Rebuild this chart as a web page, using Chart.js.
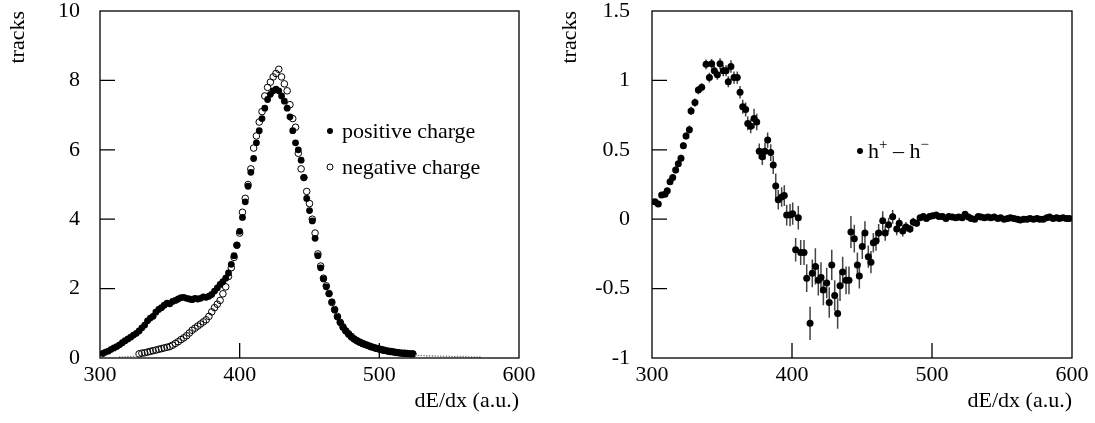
<!DOCTYPE html>
<html><head><meta charset="utf-8">
<script src="https://cdn.jsdelivr.net/npm/chart.js@4.4.1/dist/chart.umd.min.js"></script>
<style>
body{margin:0;background:#fff;width:1095px;height:423px;overflow:hidden;position:relative}
#c1{position:absolute;left:0;top:0}
#c2{position:absolute;left:547px;top:0}
</style></head>
<body>
<canvas id="c1" width="547" height="423"></canvas>
<canvas id="c2" width="548" height="423"></canvas>
<script>
// ---- Left panel: dE/dx distributions ----
const posX = [302,304,306,308,310,312,314,316,318,320,322,324,326,328,330,332,334,336,338,340,
342,344,346,348,350,352,354,356,358,360,362,364,366,368,370,372,374,376,378,380,
382,384,386,388,390,392,394,396,398,400,402,404,406,408,410,412,414,416,418,420,
422,424,426,428,430,432,434,436,438,440,442,444,446,448,450,452,454,456,458,460,
462,464,466,468,470,472,474,476,478,480,482,484,486,488,490,492,494,496,498,500,
502,504,506,508,510,512,514,516,518,520,522,524];
const posY = [0.13,0.17,0.2,0.25,0.29,0.33,0.38,0.44,0.5,0.55,
0.6,0.66,0.71,0.78,0.87,0.95,1.07,1.15,1.2,1.32,
1.4,1.45,1.52,1.58,1.56,1.63,1.66,1.7,1.74,1.75,
1.72,1.7,1.68,1.72,1.7,1.72,1.76,1.75,1.78,1.83,
1.93,2.02,2.12,2.2,2.3,2.45,2.7,2.95,3.25,3.65,
4.05,4.5,4.95,5.35,5.75,6.2,6.55,6.9,7.2,7.45,
7.6,7.7,7.75,7.7,7.55,7.4,7.2,6.95,6.55,6.2,
6.0,5.7,5.2,4.6,4.25,3.95,3.45,2.95,2.6,2.28,
2.05,1.85,1.62,1.38,1.18,1.02,0.88,0.78,0.68,0.6,
0.54,0.49,0.45,0.41,0.38,0.35,0.32,0.3,0.27,0.25,
0.23,0.21,0.2,0.18,0.17,0.16,0.15,0.14,0.13,0.13,
0.12,0.12];
const negX = [328,330,332,334,336,338,340,342,344,346,
348,350,352,354,356,358,360,362,364,366,
368,370,372,374,376,378,380,382,384,386,
388,390,392,394,396,398,400,402,404,406,
408,410,412,414,416,418,420,422,424,426,
428,430,432,434,436,438,440,442,444,446,
448,450,452,454,456,458,460,462,464,466,
468,470,472,474,476,478,480,482,484,486,
488,490,492,494,496,498,500,502,504,506,
508,510,512,514,516,518,520,522,524];
const negY = [0.12,0.14,0.15,0.17,0.19,0.21,0.23,0.25,0.27,0.29,
0.31,0.33,0.37,0.42,0.47,0.53,0.58,0.64,0.72,0.8,
0.86,0.92,0.98,1.04,1.1,1.2,1.33,1.45,1.55,1.66,
1.85,2.05,2.35,2.6,2.9,3.25,3.6,4.2,4.6,5.0,
5.45,6.05,6.4,6.8,7.1,7.55,7.8,7.95,8.1,8.2,
8.32,8.1,7.9,7.7,7.3,6.9,6.65,5.9,5.45,5.2,
4.8,4.45,4.0,3.6,3.0,2.65,2.3,2.08,1.86,1.6,
1.4,1.2,1.03,0.9,0.78,0.7,0.62,0.55,0.5,0.46,
0.42,0.39,0.36,0.33,0.3,0.28,0.26,0.24,0.22,0.2,
0.19,0.18,0.16,0.15,0.14,0.14,0.13,0.12,0.12];
const tailX = [314,316,318,320,322,324,326,526,528,530,532,534,536,538,540,542,544,546,548,550,552,554,556,558,560,562,564,566,568,570,572];
const tailY = [0.03,0.03,0.03,0.04,0.04,0.05,0.06,0.08,0.07,0.07,0.07,0.06,0.06,0.06,0.06,0.05,0.05,0.05,0.05,0.05,0.04,0.04,0.04,0.04,0.04,0.04,0.03,0.03,0.03,0.03,0.03];

// ---- Right panel: h+ - h- difference ----
const diffX = [302.1,304.5,306.9,309.3,310.9,312.9,314.8,316.9,318.8,320.7,322.4,324.3,326.7,327.9,330.7,333.1,335.5,338.6,341.0,342.6,
344.5,346.7,348.6,350.9,352.9,354.5,356.4,358.6,360.9,362.9,364.8,366.9,368.4,370.5,372.9,374.8,376.6,378.8,380.7,382.6,
384.8,386.6,388.4,390.2,392.6,394.5,396.2,398.6,400.5,402.6,404.5,406.2,408.6,410.5,412.9,414.5,416.7,418.8,420.7,422.4,
424.8,426.6,428.4,430.5,432.6,434.3,436.2,438.6,440.7,442.1,444.5,446.7,448.1,450.2,452.1,454.5,456.4,458.1,460.0,461.9,
464.8,466.6,469.0,471.9,474.8,476.6,479.1,481.4,484.3,486.6,489.0,491.5,493.8,496,498.3,500.5,503,505,507.5,510,
512,514.5,517,519,521.5,523.6,526,528,530.5,533,535,537.5,540,542,544.5,547,549,551.5,554,556,
558.5,561,563,565.5,568,570,572.5,575,577,579.5,582,584,586.5,589,591,593.5,596,598];
const diffY = [0.125,0.109,0.174,0.18,0.205,0.27,0.30,0.355,0.40,0.44,0.53,0.60,0.645,0.78,0.84,0.93,0.95,1.116,1.02,1.12,
1.07,1.04,1.12,1.07,1.07,0.99,1.10,1.02,1.02,0.915,0.81,0.79,0.69,0.67,0.725,0.70,0.49,0.45,0.49,0.57,
0.48,0.39,0.24,0.14,0.16,0.17,0.03,0.03,0.04,-0.22,0.01,-0.24,-0.24,-0.425,-0.75,-0.39,-0.34,-0.44,-0.42,-0.51,
-0.46,-0.60,-0.33,-0.55,-0.68,-0.48,-0.38,-0.44,-0.44,-0.092,-0.14,-0.33,-0.41,-0.196,-0.10,-0.27,-0.31,-0.17,-0.157,-0.10,
-0.012,-0.10,-0.04,0.017,-0.07,-0.03,-0.085,-0.056,-0.07,-0.02,-0.03,0.01,0.02,0.005,0.02,0.025,0.03,0.02,0.02,0.005,
0.02,0.015,0.01,0.015,0.01,0.035,0.015,0.005,0.0,0.02,0.015,0.01,0.015,0.01,0.015,0.005,0.01,0.0,0.005,0.01,
0.005,0.0,-0.005,0.0,0.0,0.005,0.0,0.005,0.0,0.0,0.01,0.015,0.005,0.01,0.005,0.01,0.005,0.005];
const diffErr = [0.02,0.02,0.02,0.02,0.02,0.02,0.02,0.025,0.025,0.025,0.025,0.025,0.03,0.03,0.03,0.03,0.03,0.035,0.035,0.035,
0.035,0.035,0.04,0.04,0.04,0.04,0.045,0.045,0.045,0.045,0.05,0.05,0.05,0.05,0.07,0.06,0.055,0.06,0.06,0.055,
0.06,0.065,0.09,0.07,0.07,0.075,0.075,0.08,0.08,0.085,0.085,0.09,0.09,0.1,0.12,0.1,0.13,0.11,0.11,0.11,
0.11,0.11,0.11,0.11,0.11,0.11,0.11,0.1,0.1,0.115,0.1,0.09,0.09,0.09,0.085,0.08,0.08,0.07,0.07,0.065,
0.07,0.055,0.05,0.05,0.045,0.04,0.04,0.035,0.03,0.03,0.025,0.02,0.02,0.02,0.02,0.02,0.02,0.018,0.018,0.018,
0.017,0.017,0.016,0.016,0.015,0.015,0.015,0.014,0.014,0.014,0.013,0.013,0.013,0.012,0.012,0.012,0.011,0.011,0.011,0.011,
0.01,0.01,0.01,0.01,0.01,0.01,0.01,0.01,0.009,0.009,0.009,0.009,0.009,0.009,0.009,0.009,0.009,0.009];

const ticksX = [300,400,500,600];
const leftTicksY = [0,2,4,6,8,10];
const rightTicksY = [-1,-0.5,0,0.5,1,1.5];

const FONT = '"Liberation Serif","Times New Roman",serif';
Chart.defaults.font.family = FONT;
Chart.defaults.font.size = 22;
Chart.defaults.color = '#000';

function pts(xs, ys){ return xs.map((x,i)=>({x:x, y:ys[i]})); }

const framePlugin = {
  id:'frame',
  afterDraw(chart){
    const {ctx, chartArea:a, scales} = chart;
    ctx.save();
    ctx.strokeStyle = '#000';
    ctx.lineWidth = 1.3;
    ctx.strokeRect(a.left, a.top, a.right-a.left, a.bottom-a.top);
    ctx.beginPath();
    scales.x.ticks.forEach(t=>{
      const px = scales.x.getPixelForValue(t.value);
      if (px > a.left+1 && px < a.right-1){ ctx.moveTo(px, a.bottom); ctx.lineTo(px, a.bottom-15); }
    });
    scales.y.ticks.forEach(t=>{
      const py = scales.y.getPixelForValue(t.value);
      if (py > a.top+1 && py < a.bottom-1){ ctx.moveTo(a.left, py); ctx.lineTo(a.left+15, py); }
    });
    ctx.stroke();
    ctx.restore();
  }
};

const errPlugin = {
  id:'errbars',
  beforeDatasetsDraw(chart){
    const {ctx, scales:{x,y}} = chart;
    ctx.save();
    ctx.strokeStyle = '#444';
    ctx.lineWidth = 1.5;
    ctx.beginPath();
    diffX.forEach((v,i)=>{
      const px = x.getPixelForValue(v);
      ctx.moveTo(px, y.getPixelForValue(diffY[i]-diffErr[i]));
      ctx.lineTo(px, y.getPixelForValue(diffY[i]+diffErr[i]));
    });
    ctx.stroke();
    ctx.restore();
  }
};

function legendPlugin(items){
  return {
    id:'customLegend',
    afterDraw(chart){
      const ctx = chart.ctx;
      ctx.save();
      ctx.fillStyle = '#000';
      ctx.textBaseline = 'alphabetic';
      items.forEach(it=>{
        ctx.beginPath();
        ctx.arc(it.dx, it.dy, 3, 0, Math.PI*2);
        if (it.open){ ctx.strokeStyle='#000'; ctx.lineWidth=1; ctx.stroke(); }
        else { ctx.fill(); }
        let x = it.tx;
        it.parts.forEach(p=>{
          ctx.font = (p.sup ? '15px ' : '22px ') + FONT;
          ctx.fillText(p.t, x, it.ty - (p.sup ? 9 : 0));
          x += ctx.measureText(p.t).width;
        });
      });
      ctx.restore();
    }
  };
}

function makeScales(ymin, ymax, yTickVals, yWidth, yPad, yTitlePad){
  return {
    x:{
      type:'linear', min:300, max:600,
      afterBuildTicks(s){ s.ticks = ticksX.map(v=>({value:v})); },
      ticks:{padding:4, font:{size:22}, color:'#000', maxRotation:0, callback:(v)=>String(v)},
      grid:{display:false, drawTicks:false},
      border:{display:false},
      title:{display:true, text:'dE/dx (a.u.)', align:'end', font:{size:22}, color:'#000', padding:{top:0,bottom:9}},
      afterFit(s){ s.height = 65; s.paddingLeft = 0; s.paddingRight = 0; }
    },
    y:{
      type:'linear', min:ymin, max:ymax,
      afterBuildTicks(s){ s.ticks = yTickVals.map(v=>({value:v})); },
      ticks:{padding:yPad, font:{size:22}, color:'#000', callback:(v)=>String(v)},
      grid:{display:false, drawTicks:false},
      border:{display:false},
      title:{display:true, text:'tracks', align:'end', font:{size:22}, color:'#000', padding:{top:yTitlePad,bottom:0}},
      afterFit(s){ s.width = yWidth; s.paddingTop = 0; s.paddingBottom = 0; }
    }
  };
}

new Chart(document.getElementById('c1'), {
  type:'scatter',
  data:{datasets:[
    {label:'tail', data:pts(tailX, tailY), pointRadius:0.8, pointBackgroundColor:'#777', pointBorderWidth:0, showLine:false},
    {label:'positive charge', data:pts(posX, posY), pointRadius:3.4, pointBackgroundColor:'#000', pointBorderWidth:0, showLine:false},
    {label:'negative charge', data:pts(negX, negY), pointRadius:3.3, pointBackgroundColor:'rgba(255,255,255,0)', pointBorderColor:'#000', pointBorderWidth:1, showLine:false}
  ]},
  options:{
    responsive:false, animation:false,
    layout:{padding:{left:0, right:28, top:11, bottom:0}},
    plugins:{legend:{display:false}, tooltip:{enabled:false}},
    scales: makeScales(0, 10, leftTicksY, 100, 20, 5.5)
  },
  plugins:[framePlugin, legendPlugin([
    {dx:330, dy:131, tx:342, ty:138, parts:[{t:'positive charge'}]},
    {dx:330, dy:167, tx:342, ty:174, open:true, parts:[{t:'negative charge'}]}
  ])]
});

new Chart(document.getElementById('c2'), {
  type:'scatter',
  data:{datasets:[
    {label:'h+ - h-', data:pts(diffX, diffY), pointRadius:3.5, pointBackgroundColor:'#000', pointBorderWidth:0, showLine:false}
  ]},
  options:{
    responsive:false, animation:false,
    layout:{padding:{left:0, right:23, top:11, bottom:0}},
    plugins:{legend:{display:false}, tooltip:{enabled:false}},
    scales: makeScales(-1, 1.5, rightTicksY, 105, 22, 10)
  },
  plugins:[framePlugin, errPlugin, legendPlugin([
    {dx:313, dy:151, tx:321, ty:158, parts:[{t:'h'},{t:'+',sup:true},{t:' \u2013 h'},{t:'\u2212',sup:true}]}
  ])]
});
</script>
</body></html>
